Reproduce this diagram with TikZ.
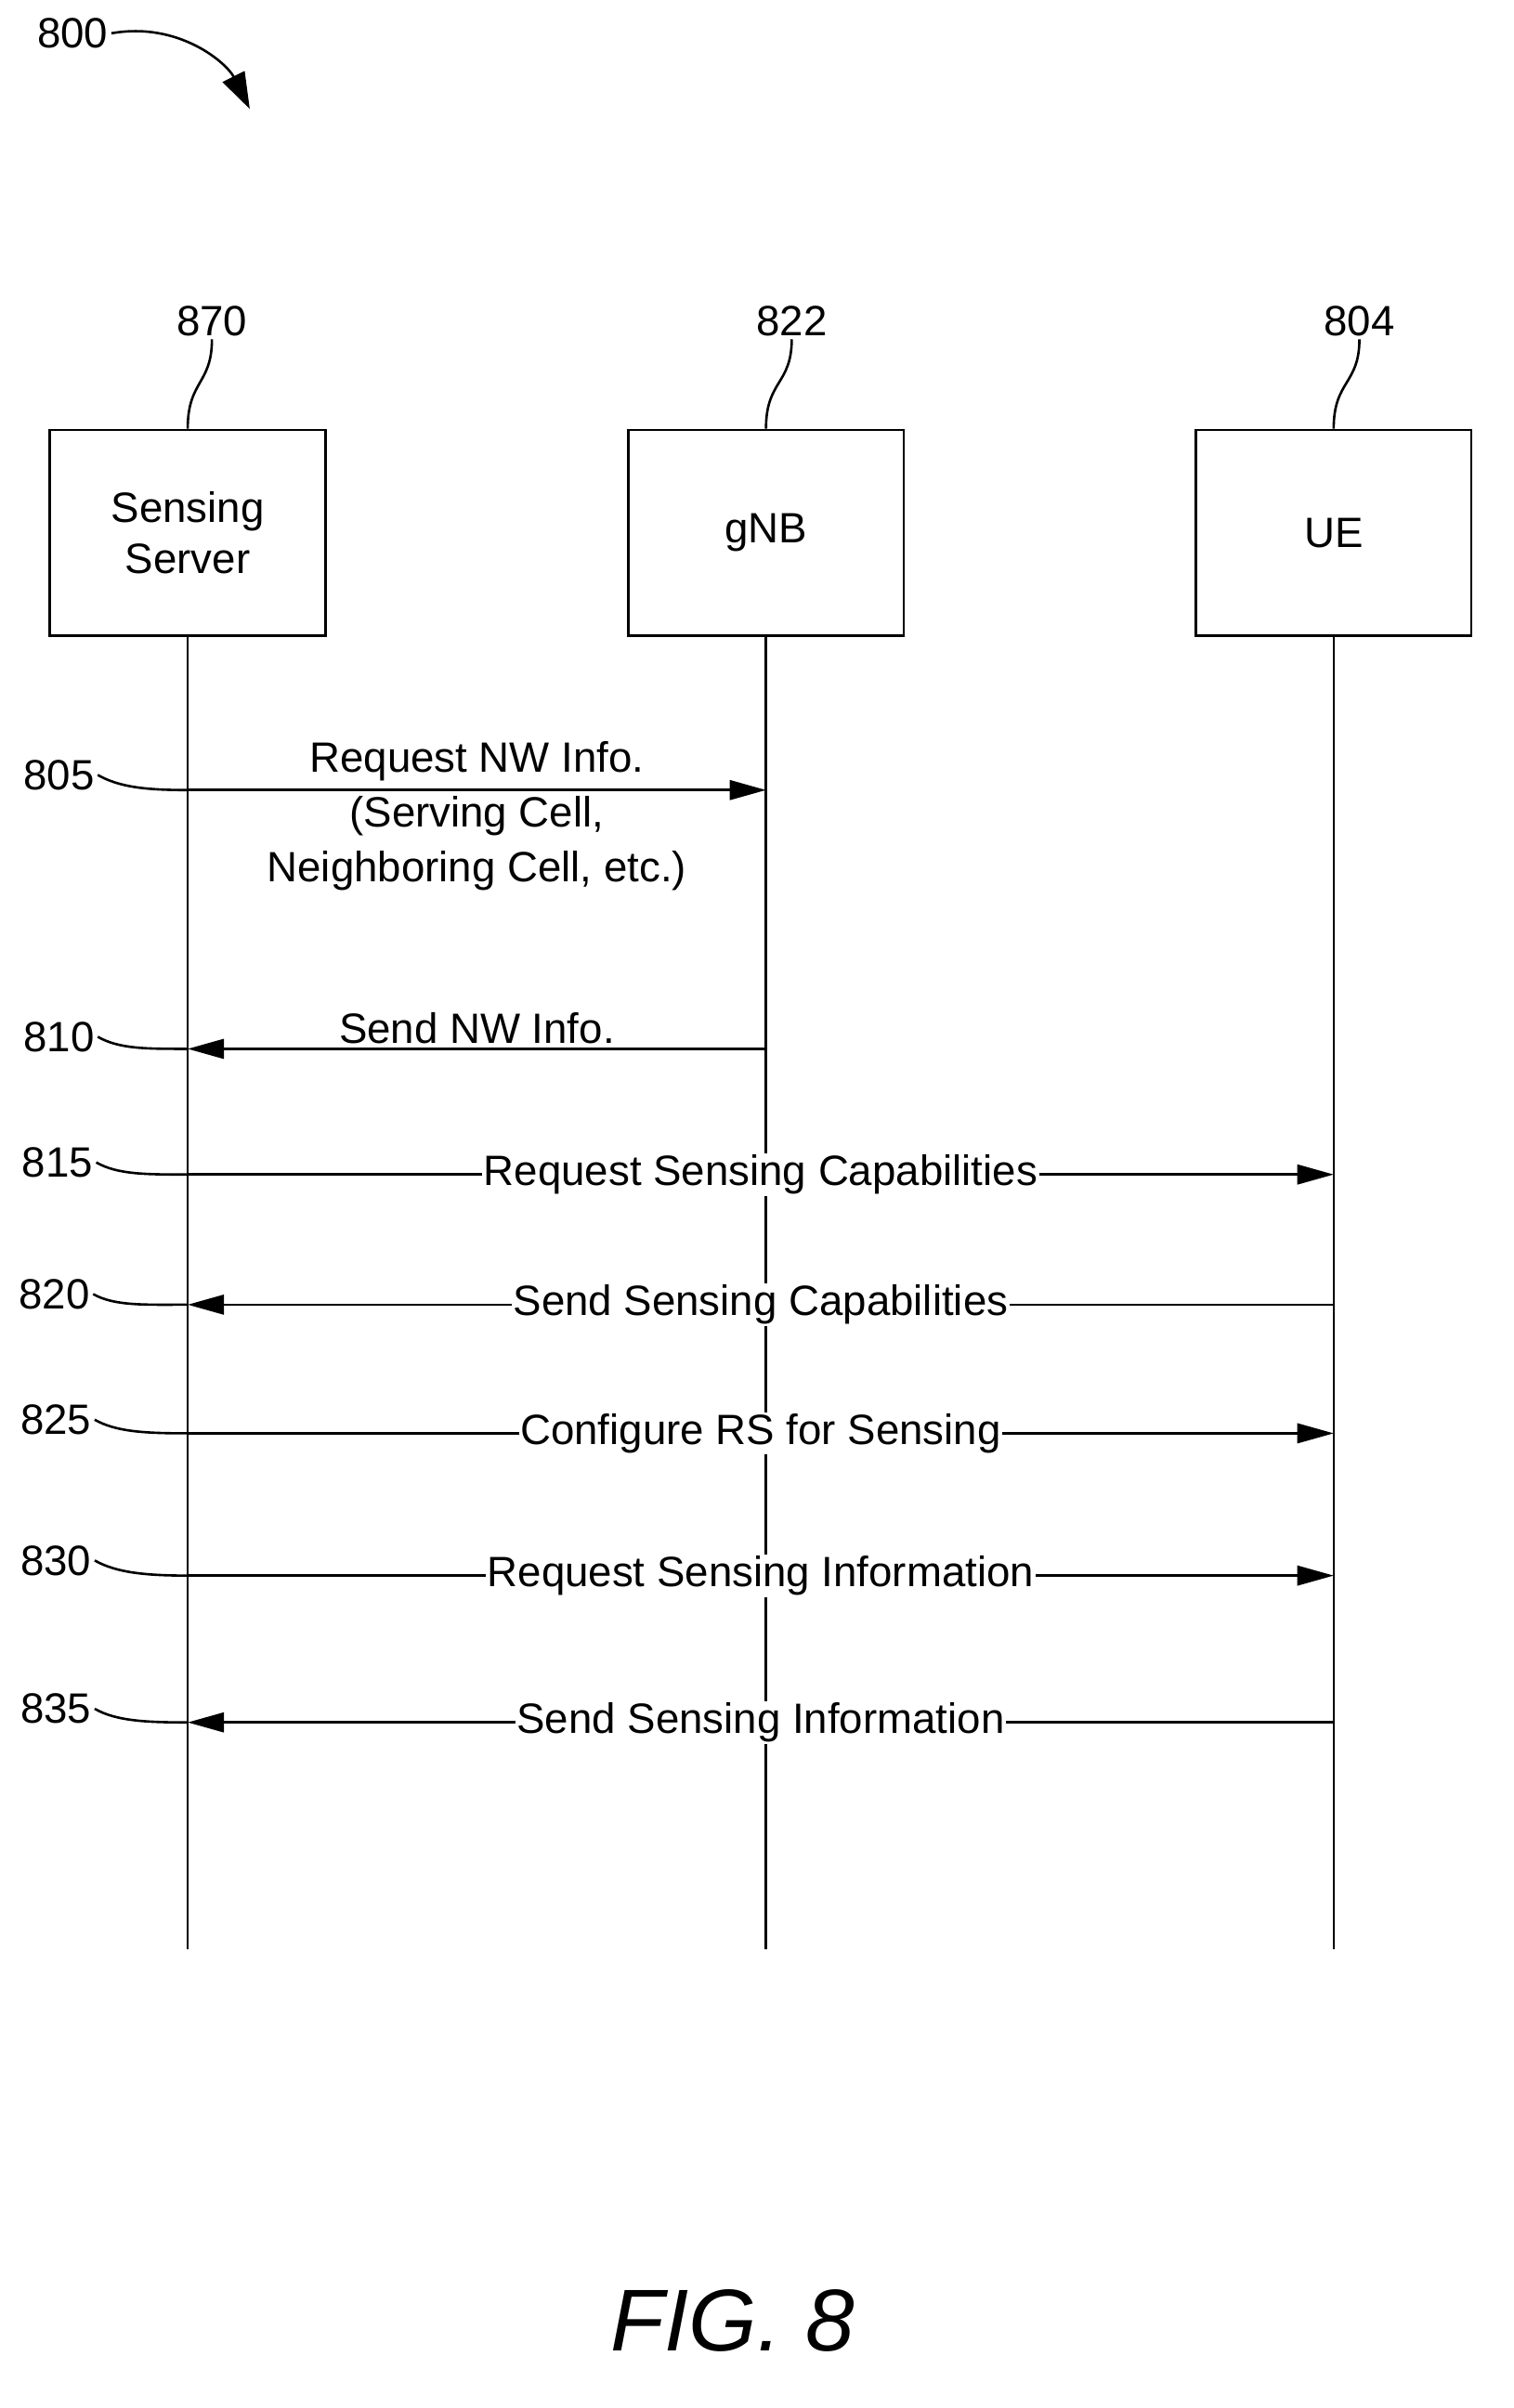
\documentclass[tikz,border=0pt]{standalone}
\usepackage{fontspec}
\setmainfont{Liberation Sans}
\usetikzlibrary{positioning,arrows.meta,calc}
\tikzset{
    % arrow tip of the messages
    >={Triangle[length=24pt,width=13pt]},
    msg/.style={->, line width=1.6pt},
    lbl/.style={font=\fontsize{28}{34}\selectfont, inner sep=2pt},
    inl/.style={lbl, fill=white, inner sep=1pt},
    ent/.style={draw, line width=1.6pt, rectangle,
                minimum width=182pt, minimum height=136pt,
                align=center, font=\fontsize{28}{34}\selectfont},
    wig/.style={line width=1.6pt},
}
\newcommand{\wiggle}[2]{\draw[wig] (#1) .. controls +(14pt,-8pt) and +(-28pt,0pt) .. (#2);}
\begin{document}
\begin{tikzpicture}[x=1pt, y=-1pt]
\useasboundingbox (0,0) rectangle (1000,1591);

% entities
\node[ent] (server) at (124,352) {Sensing\\Server};
\node[ent] (gnb)    at (506,352) {gNB};
\node[ent] (ue)     at (881,352) {UE};

% reference numbers of the entities
\node[lbl] (r870) at (140,212) {870};
\node[lbl] (r822) at (523,212) {822};
\node[lbl] (r804) at (898,212) {804};
\draw[wig] (r870.south) .. controls +(0,30) and +(0,-32) .. (server.north);
\draw[wig] (r822.south) .. controls +(0,30) and +(0,-32) .. (gnb.north);
\draw[wig] (r804.south) .. controls +(0,30) and +(0,-32) .. (ue.north);

% figure number
\node[lbl] (r800) at (48,22) {800};
\coordinate (a800) at (165,72);
\draw[line width=1.6pt, -{Triangle[length=24pt,width=16pt]}] (r800.east) .. controls +(45,-8) and +(-15,-30) .. (a800);

% lifelines
\coordinate (sEnd) at (124,1288);
\coordinate (gEnd) at (506,1288);
\coordinate (uEnd) at (881,1288);
\draw[line width=1.6pt] (server.south) -- (sEnd);
\draw[line width=1.6pt] (gnb.south) -- (gEnd);
\draw[line width=1.6pt] (ue.south) -- (uEnd);

% points on the lifelines
\coordinate (s805) at (124,522);  \coordinate (g805) at (506,522);
\coordinate (s810) at (124,693);  \coordinate (g810) at (506,693);
\coordinate (s815) at (124,776);  \coordinate (u815) at (881,776);
\coordinate (s820) at (124,862);  \coordinate (u820) at (881,862);
\coordinate (s825) at (124,947);  \coordinate (u825) at (881,947);
\coordinate (s830) at (124,1041); \coordinate (u830) at (881,1041);
\coordinate (s835) at (124,1138); \coordinate (u835) at (881,1138);

% messages
\draw[msg] (s805) -- (g805);
\node[lbl, align=center, anchor=north, font=\fontsize{28}{36}\selectfont] (t805) at (315,488) {Request NW Info.\\(Serving Cell,\\Neighboring Cell, etc.)};
\draw[msg] (g810) -- (s810);
\node[lbl, anchor=south] (t810) at (315,692) {Send NW Info.};
\draw[msg] (s815) -- node[inl] {Request Sensing Capabilities} (u815);
\draw[msg] (u820) -- node[inl] {Send Sensing Capabilities} (s820);
\draw[msg] (s825) -- node[inl] {Configure RS for Sensing} (u825);
\draw[msg] (s830) -- node[inl] {Request Sensing Information} (u830);
\draw[msg] (u835) -- node[inl] {Send Sensing Information} (s835);

% step numbers
\node[lbl] (n805) at (39,512)  {805};  \wiggle{n805.east}{s805}
\node[lbl] (n810) at (39,685)  {810};  \wiggle{n810.east}{s810}
\node[lbl] (n815) at (38,768)  {815};  \wiggle{n815.east}{s815}
\node[lbl] (n820) at (36,855)  {820};  \wiggle{n820.east}{s820}
\node[lbl] (n825) at (37,938)  {825};  \wiggle{n825.east}{s825}
\node[lbl] (n830) at (37,1031) {830};  \wiggle{n830.east}{s830}
\node[lbl] (n835) at (37,1129) {835};  \wiggle{n835.east}{s835}

\node[font=\fontsize{58}{66}\selectfont\itshape] (fig) at (484,1533) {FIG. 8};
\end{tikzpicture}
\end{document}
